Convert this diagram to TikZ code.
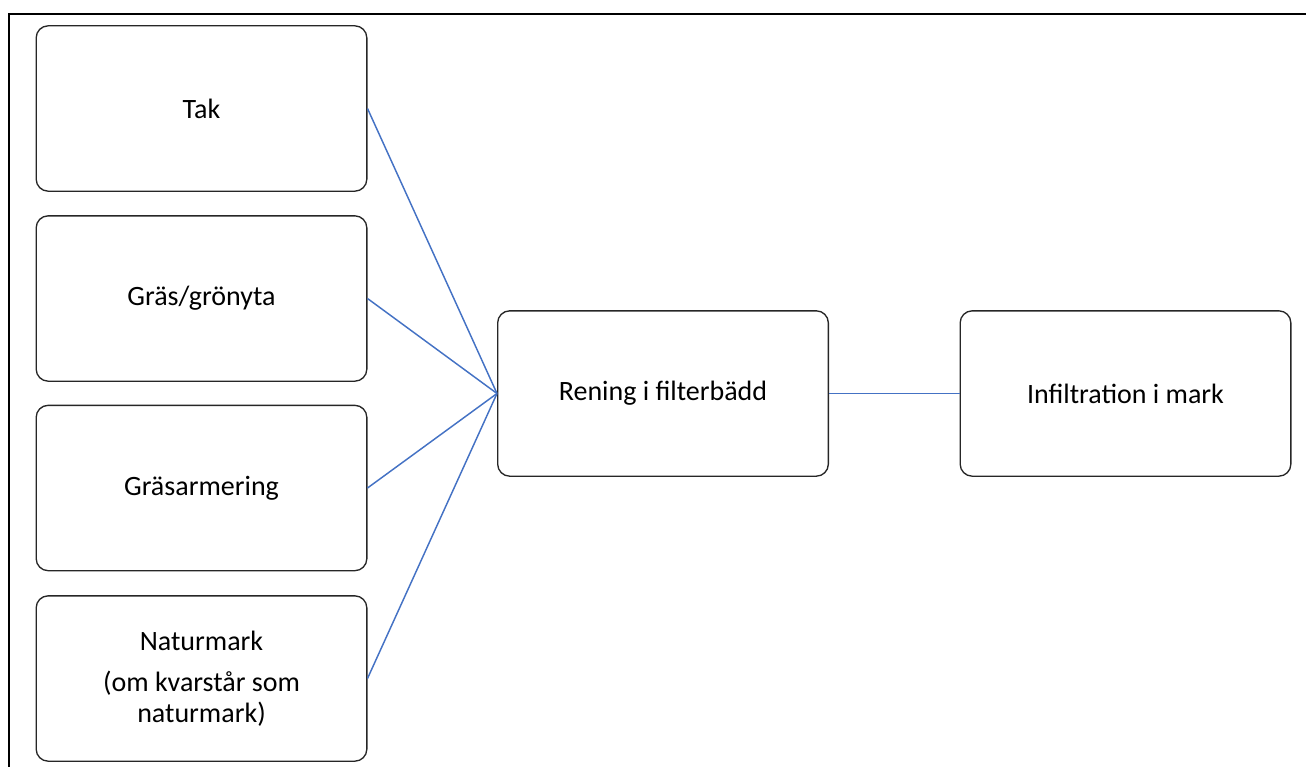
\documentclass[tikz,border=0pt]{standalone}
\usepackage{fontspec}
\setmainfont{Carlito}
\begin{document}
\begin{tikzpicture}[x=0.75pt,y=-0.75pt,
  box/.style={draw=black!85,line width=1pt,rounded corners=9pt,minimum width=248pt,minimum height=124pt,align=center,inner sep=0pt,font=\fontsize{21}{23}\selectfont},
  link/.style={draw={rgb,255:red,68;green,114;blue,196},line width=1.1pt},
  frame/.style={draw=black,line width=1.6pt}]
\useasboundingbox (0,0) rectangle (1306,767);
\coordinate (ftr) at (1306,14);
\coordinate (ftl) at (9,14);
\coordinate (fbl) at (9,767);
\draw[frame] (ftr) -- (ftl) -- (fbl);
\node[box] (tak) at (201.5,108.5) {Tak};
\node[box] (gras) at (201.5,298.5) {Gräs/grönyta};
\node[box] (arm) at (201.5,488) {Gräsarmering};
\node[box] (natur) at (201.5,678.5) {Naturmark\\[8pt](om kvarstår som\\naturmark)};
\node[box] (ren) at (663,393.5) {Rening i filterbädd};
\node[box] (inf) at (1125.5,393.5) {Infiltration i mark};
\draw[link] (tak.east) -- (ren.west);
\draw[link] (gras.east) -- (ren.west);
\draw[link] (arm.east) -- (ren.west);
\draw[link] (natur.east) -- (ren.west);
\draw[link] (ren.east) -- (inf.west);
\end{tikzpicture}
\end{document}
